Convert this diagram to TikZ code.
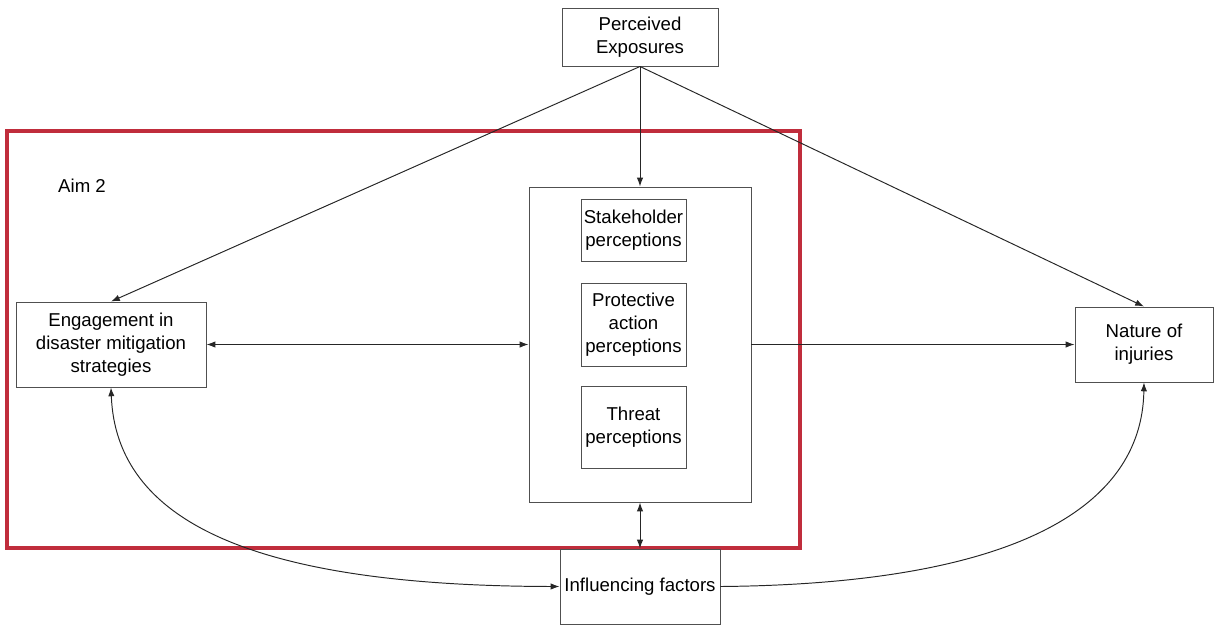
\documentclass[tikz,border=0pt]{standalone}
\usepackage{fontspec}
\setmainfont{Liberation Sans}
\usetikzlibrary{arrows.meta}
\definecolor{aimred}{RGB}{192,45,60}
\definecolor{boxgray}{RGB}{80,80,80}
\newdimen\pxu
\pxu=0.02cm
\begin{document}
\begin{tikzpicture}[x=0.02cm,y=-0.02cm,
  box/.style={draw=boxgray,line width=0.55pt,fill=white,align=center,inner sep=0pt,
    font=\fontsize{10.6}{13}\selectfont},
  conn/.style={line width=0.55pt,draw=black!85},
  tip/.style={-{Latex[length=5pt,width=3.6pt]}},
  tips/.style={{Latex[length=5pt,width=3.6pt]}-{Latex[length=5pt,width=3.6pt]}}]
\useasboundingbox (0,0) rectangle (1214,626);
% red aim frame
\draw[aimred,line width=2.3pt] (7,131) rectangle (800,548);
\node[font=\fontsize{10.6}{13}\selectfont] (aim) at (82,186) {Aim 2};
% nodes
\node[box,minimum width=156\pxu,minimum height=58\pxu] (pe) at (640,37) {Perceived\\Exposures};
\node[box,minimum width=222\pxu,minimum height=315\pxu] (big) at (640,344.5) {};
\node[box,minimum width=105\pxu,minimum height=62\pxu] (sp) at (633.5,230) {Stakeholder\\perceptions};
\node[box,minimum width=105\pxu,minimum height=83\pxu] (pap) at (633.5,324.5) {Protective\\action\\perceptions};
\node[box,minimum width=105\pxu,minimum height=82\pxu] (tp) at (633.5,427) {Threat\\perceptions};
\node[box,minimum width=190\pxu,minimum height=85\pxu] (eng) at (111,344.5) {Engagement in\\disaster mitigation\\strategies};
\node[box,minimum width=138\pxu,minimum height=75\pxu] (nat) at (1144,344.5) {Nature of\\injuries};
\node[box,minimum width=160\pxu,minimum height=75\pxu] (inf) at (640,586.5) {Influencing factors};
% connectors
\draw[conn,tip] (pe.south) -- (eng.north);
\draw[conn,tip] (pe.south) -- (big.north);
\draw[conn,tip] (pe.south) -- (nat.north);
\draw[conn,tips] (eng.east) -- (big.west);
\draw[conn,tip] (big.east) -- (nat.west);
\draw[conn,tips] (big.south) -- (inf.north);
\draw[conn,tips] (inf.west) .. controls (250,586) and (116,520) .. (eng.south);
\draw[conn,tip] (inf.east) .. controls (1010,584) and (1142,510) .. (nat.south);
\end{tikzpicture}
\end{document}
